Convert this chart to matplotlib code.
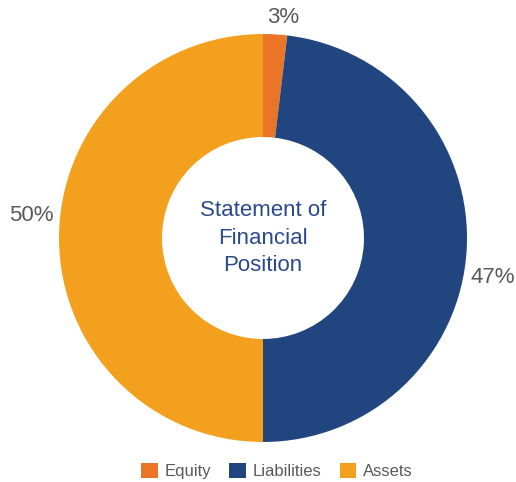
import matplotlib.pyplot as plt
from matplotlib.patches import Patch

# chart data (wedge sizes, labels as printed)
categories = ["Equity", "Liabilities", "Assets"]
shares = [1.9, 48.1, 50.0]
pct_labels = ["3%", "47%", "50%"]
colors = ["#EB7526", "#21457F", "#F3A01F"]

plt.rcParams["font.family"] = ["Liberation Sans", "DejaVu Sans"]

fig = plt.figure(figsize=(5.16, 4.82), dpi=100)
W, H = 516, 482
cx, cy, R = 263, 238, 204
ax = fig.add_axes([(cx - R) / W, (H - cy - R) / H, 2 * R / W, 2 * R / H])

wedges, _ = ax.pie(shares, colors=colors, startangle=90, counterclock=False,
                   radius=1.0, wedgeprops=dict(width=0.505, edgecolor="none"))
ax.set_xlim(-1, 1)
ax.set_ylim(-1, 1)
ax.set_aspect("equal")
ax.axis("off")

# percentage labels (placed like the original, outside the ring)
label_pos = [(0.10, 1.08), (1.125, -0.195), (-1.135, 0.11)]
for txt, (x, y) in zip(pct_labels, label_pos):
    ax.text(x, y, txt, ha="center", va="center", fontsize=16, color="#595959")

ax.text(0, 0.0, "Statement of\nFinancial\nPosition", ha="center", va="center",
        fontsize=16, color="#2B4A8B", linespacing=1.42)

handles = [Patch(facecolor=c, edgecolor="none", label=n) for c, n in zip(colors, categories)]
fig.legend(handles=handles, loc="center", bbox_to_anchor=(277 / W, 1 - 471 / H), ncol=3,
           frameon=False, fontsize=12, handlelength=1.0, handleheight=1.0,
           handletextpad=0.4, columnspacing=1.1, labelcolor="#595959")

fig.savefig("out.png", dpi=100)
